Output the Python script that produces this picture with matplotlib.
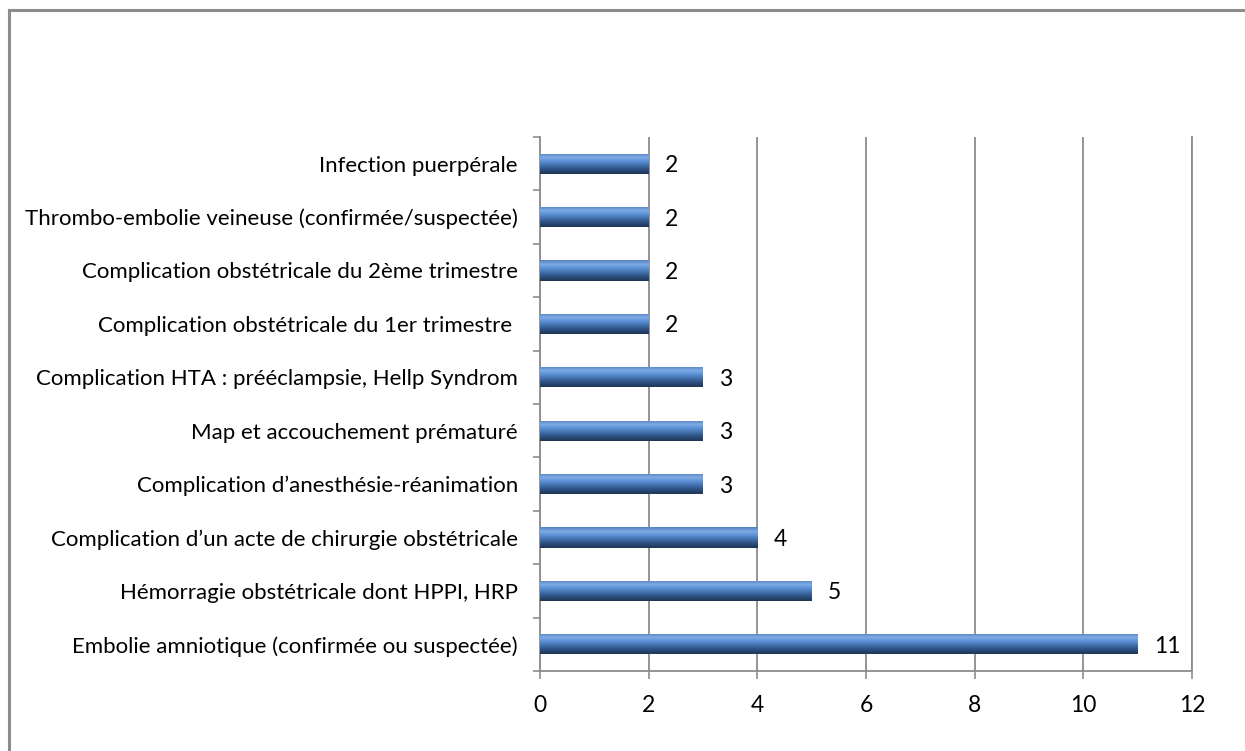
import matplotlib.pyplot as plt
import numpy as np
from matplotlib.colors import LinearSegmentedColormap
from matplotlib.lines import Line2D

plt.rcParams['font.family'] = ['Lato', 'DejaVu Sans']

# causes (de bas en haut)
causes = [
    'Embolie amniotique (confirmée ou suspectée)',
    'Hémorragie obstétricale dont HPPI, HRP',
    'Complication d’un acte de chirurgie obstétricale',
    'Complication d’anesthésie-réanimation',
    'Map et accouchement prématuré',
    'Complication HTA : prééclampsie, Hellp Syndrom',
    'Complication obstétricale du 1er trimestre ',
    'Complication obstétricale du 2ème trimestre',
    'Thrombo-embolie veineuse (confirmée/suspectée)',
    'Infection puerpérale',
]
nb_deces = [11, 5, 4, 3, 3, 3, 2, 2, 2, 2]
xticks = [0, 2, 4, 6, 8, 10, 12]

fig = plt.figure(figsize=(12.45, 7.51), dpi=100)
ax = fig.add_axes([540/1245, 1 - 671/751, 652/1245, 534/751])

# cadre exterieur
fig.add_artist(Line2D([9/1245, 9/1245], [0, 1 - 10/751], color='#8c8c8c', lw=2.2))
fig.add_artist(Line2D([9/1245, 1], [1 - 10/751, 1 - 10/751], color='#8c8c8c', lw=2.2))

y = np.arange(len(causes))
barres = ax.barh(y, nb_deces, height=0.38, color='#4f81bd', zorder=2)

# degrade vertical des barres
cmap = LinearSegmentedColormap.from_list('bleu', [
    (0.0, '#1e3654'), (0.25, '#2f5488'), (0.6, '#5a8fd4'),
    (0.8, '#7eaae4'), (1.0, '#5482c4')])
grad = np.linspace(0, 1, 64).reshape(-1, 1)
for b in barres:
    x0, y0 = b.get_x(), b.get_y()
    im = ax.imshow(grad, cmap=cmap, origin='lower', aspect='auto',
                   extent=[x0, x0 + b.get_width(), y0, y0 + b.get_height()],
                   zorder=3)
    im.set_clip_path(b)

for yi, v in zip(y, nb_deces):
    ax.text(v + 0.3, yi, str(v), va='center_baseline', ha='left', fontsize=16.5)

ax.set_xlim(0, 12)
ax.set_ylim(-0.5, len(causes) - 0.5)
ax.set_xticks(xticks)
ax.set_xticklabels([str(t) for t in xticks], fontsize=16.5)
ax.set_yticks(y)
ax.set_yticklabels(causes, fontsize=16)
ax.set_yticks(np.arange(-0.5, len(causes)), minor=True)
ax.tick_params(axis='y', which='major', length=0, pad=16)
ax.tick_params(axis='y', which='minor', length=5, color='#8c8c8c', width=1.2)
ax.tick_params(axis='x', length=6, color='#8c8c8c', width=1.2, pad=11)
ax.xaxis.grid(True, color='#8c8c8c', lw=1.3, zorder=0)
ax.set_axisbelow(True)
for s in ['left', 'bottom', 'right']:
    ax.spines[s].set_color('#8c8c8c')
    ax.spines[s].set_linewidth(1.3)
ax.spines['top'].set_visible(False)

fig.savefig('out.png', dpi=100)
